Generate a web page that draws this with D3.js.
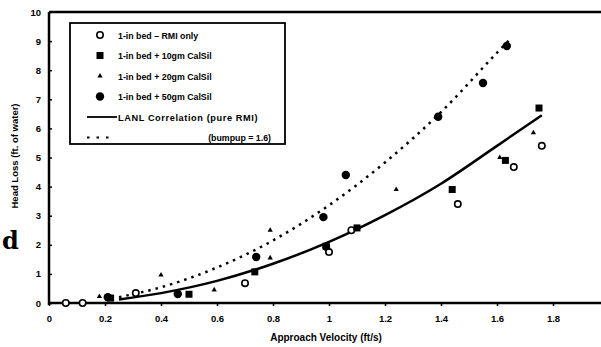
<!DOCTYPE html>
<html>
<head>
<meta charset="utf-8">
<script src="https://cdn.jsdelivr.net/npm/d3@7"></script>
<style>
  body { margin: 0; background: #fff; }
  svg { display: block; }
  text { font-family: Arial, "Liberation Sans", sans-serif; fill: #000; }
</style>
</head>
<body>
<div id="chart"></div>
<script>
// values
const xTicks = [0, 0.2, 0.4, 0.6, 0.8, 1, 1.2, 1.4, 1.6, 1.8];
const yTicks = [0, 1, 2, 3, 4, 5, 6, 7, 8, 9, 10];

const rmiOnly = [[0.06, 0], [0.12, 0], [0.31, 0.34], [0.70, 0.68], [0.99, 1.93], [1.00, 1.75],
  [1.08, 2.5], [1.46, 3.4], [1.66, 4.67], [1.76, 5.4]];
const cal10 = [[0.22, 0.17], [0.50, 0.3], [0.735, 1.07], [0.99, 1.95], [1.10, 2.58],
  [1.44, 3.9], [1.63, 4.9], [1.75, 6.7]];
const cal20 = [[0.18, 0.22], [0.40, 0.96], [0.59, 0.45], [0.79, 2.5], [0.79, 1.55],
  [1.24, 3.9], [1.61, 5.0], [1.73, 5.85]];
const cal50 = [[0.21, 0.2], [0.46, 0.31], [0.74, 1.58], [0.98, 2.95], [1.06, 4.4],
  [1.39, 6.4], [1.55, 7.56], [1.635, 8.83]];

const lanl = [[0.25, 0.12], [0.4, 0.34], [0.6, 0.76], [0.8, 1.35], [1.0, 2.1], [1.2, 3.02],
  [1.4, 4.1], [1.6, 5.4], [1.76, 6.45]];
const bumpup = [[0.25, 0.2], [0.4, 0.54], [0.6, 1.22], [0.8, 2.15], [1.0, 3.36], [1.2, 4.83],
  [1.4, 6.56], [1.6, 8.6], [1.645, 9.05]];

const legendLabels = ["1-in bed \u2013 RMI only", "1-in bed + 10gm CalSil", "1-in bed + 20gm CalSil",
  "1-in bed + 50gm CalSil", "LANL Correlation (pure RMI)", "(bumpup = 1.6)"];

const W = 601, H = 347;
const svg = d3.select("#chart").append("svg").attr("width", W).attr("height", H);

const x = d3.scaleLinear().domain([0, 2]).range([49, 609]);
const y = d3.scaleLinear().domain([0, 10]).range([303, 12]);

// frame: left, top and bottom lines
svg.append("line").attr("x1", x(0)).attr("x2", W).attr("y1", y(10)).attr("y2", y(10))
  .attr("stroke", "#000").attr("stroke-width", 2.5);
svg.append("line").attr("x1", x(0)).attr("x2", W).attr("y1", y(0)).attr("y2", y(0))
  .attr("stroke", "#000").attr("stroke-width", 2.5);
svg.append("line").attr("x1", x(0)).attr("x2", x(0)).attr("y1", y(10)).attr("y2", y(0) + 2)
  .attr("stroke", "#000").attr("stroke-width", 2.5);

// y axis
const yAx = svg.append("g").attr("transform", "translate(" + x(0) + ",0)")
  .call(d3.axisLeft(y).tickValues(yTicks).tickSize(-3).tickPadding(8).tickFormat(d3.format("d")));
yAx.select(".domain").remove();
yAx.selectAll("line").attr("stroke-width", 1.5);
yAx.selectAll("text").style("font-size", "9.5px").style("font-weight", "bold");

// x axis
const xAx = svg.append("g").attr("transform", "translate(0," + y(0) + ")")
  .call(d3.axisBottom(x).tickValues(xTicks).tickSize(3).tickPadding(9).tickFormat(d3.format("~g")));
xAx.select(".domain").remove();
xAx.selectAll("line").attr("stroke-width", 1.5);
xAx.selectAll("text").style("font-size", "9.5px").style("font-weight", "bold");

// axis titles
svg.append("text").attr("x", 326).attr("y", 341).attr("text-anchor", "middle")
  .style("font-size", "10px").style("font-weight", "bold").text("Approach Velocity (ft/s)");
svg.append("text").attr("transform", "translate(18,156) rotate(-90)").attr("text-anchor", "middle")
  .style("font-size", "9.5px").style("font-weight", "bold").text("Head Loss (ft. of water)");

// stray scanned letter on the left margin
svg.append("text").attr("x", 2).attr("y", 249).style("font-family", "'DejaVu Serif', serif")
  .style("font-size", "24px").style("font-weight", "bold").text("d");

// curves
const line = d3.line().x(d => x(d[0])).y(d => y(d[1])).curve(d3.curveMonotoneX);
svg.append("path").datum(lanl).attr("d", line).attr("fill", "none")
  .attr("stroke", "#000").attr("stroke-width", 2.5);
svg.append("path").datum(bumpup).attr("d", line).attr("fill", "none")
  .attr("stroke", "#000").attr("stroke-width", 2.5).attr("stroke-dasharray", "2.5,5");

// markers
function drawMarker(g, type, cx, cy) {
  if (type === "open") {
    g.append("circle").attr("cx", cx).attr("cy", cy).attr("r", 3.2)
      .attr("fill", "#fff").attr("stroke", "#000").attr("stroke-width", 1.6);
  } else if (type === "square") {
    g.append("rect").attr("x", cx - 3.5).attr("y", cy - 3.5).attr("width", 7).attr("height", 7)
      .attr("fill", "#000");
  } else if (type === "tri") {
    g.append("path").attr("d", d3.symbol().type(d3.symbolTriangle).size(12)())
      .attr("transform", "translate(" + cx + "," + cy + ")").attr("fill", "#000");
  } else {
    g.append("circle").attr("cx", cx).attr("cy", cy).attr("r", 4.2).attr("fill", "#000");
  }
}
const series = [[rmiOnly, "open"], [cal10, "square"], [cal20, "tri"], [cal50, "dot"]];
const pts = svg.append("g");
series.forEach(s => s[0].forEach(d => drawMarker(pts, s[1], x(d[0]), y(d[1]))));

// legend
const lg = svg.append("g");
lg.append("rect").attr("x", 70).attr("y", 23).attr("width", 215).attr("height", 121)
  .attr("fill", "#fff").attr("stroke", "#000").attr("stroke-width", 1.8);
const rowY = i => 35 + i * 20.5;
legendLabels.forEach((lab, i) => {
  const ty = rowY(i);
  if (i < 4) {
    drawMarker(lg, series[i][1], 100, ty);
    lg.append("text").attr("x", 118).attr("y", ty + 3.5).style("font-size", "8.8px")
      .style("font-weight", "bold").text(lab);
  } else if (i === 4) {
    lg.append("line").attr("x1", 87).attr("x2", 117).attr("y1", ty).attr("y2", ty)
      .attr("stroke", "#000").attr("stroke-width", 1.8);
    lg.append("text").attr("x", 118).attr("y", ty + 3.5).style("font-size", "9.2px")
      .style("font-weight", "bold").style("letter-spacing", "0.6px").text(lab);
  } else {
    lg.append("line").attr("x1", 87).attr("x2", 112).attr("y1", ty).attr("y2", ty)
      .attr("stroke", "#000").attr("stroke-width", 2.2).attr("stroke-dasharray", "2.5,7");
    lg.append("text").attr("x", 271).attr("y", ty + 3.5).attr("text-anchor", "end")
      .style("font-size", "8.8px").style("font-weight", "bold").text(lab);
  }
});
</script>
</body>
</html>
